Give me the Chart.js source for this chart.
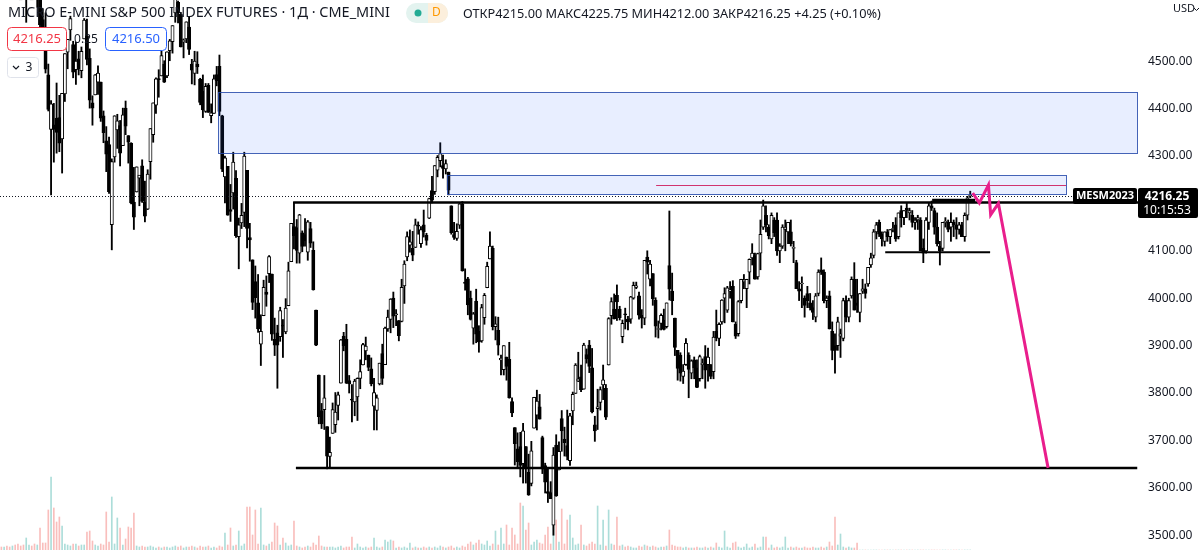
<!DOCTYPE html>
<html>
<head>
<meta charset="utf-8">
<script src="https://cdn.jsdelivr.net/npm/chart.js@4.4.0/dist/chart.umd.min.js"></script>
<style>
  html, body { margin: 0; padding: 0; background: #ffffff; }
  #wrap { width: 1200px; height: 550px; }
</style>
</head>
<body>
<div id="wrap"><canvas id="chart" width="1200" height="550"></canvas></div>
<script>
// MES daily candles, 28 Dec 2021 .. 19 May 2023 (one value per trading day)
const opens = [
4795,4788,4794,4775,4766,4800,4790,4697,4697,4655,
4669,4728,4733,4637,4632,4588,4547,4471,4356,4366,
4380,4381,4336,4431,4519,4566,4535,4482,4505,4480,
4547,4553,4506,4412,4429,4456,4456,4385,4332,4324,
4155,4298,4355,4364,4322,4401,4343,4327,4203,4224,
4253,4279,4203,4188,4288,4345,4407,4462,4469,4494,
4469,4522,4541,4602,4624,4599,4540,4547,4572,4494,
4474,4494,4462,4437,4394,4449,4385,4390,4472,4489,
4385,4256,4278,4187,4222,4253,4130,4159,4181,4270,
4128,4081,4035,3990,3903,3963,4013,4052,4051,3913,
3927,3919,3942,3929,3984,4077,4151,4149,4095,4138,
4134,4097,4147,4101,3975,3838,3763,3765,3729,3666,
3715,3733,3774,3821,3920,3913,3826,3786,3781,3792,
3831,3859,3889,3880,3851,3772,3763,3819,3883,3860,
3935,3955,4000,3965,3953,3951,4026,4087,4112,4105,
4107,4154,4115,4155,4133,4169,4227,4225,4270,4290,
4280,4273,4266,4195,4134,4126,4154,4199,4034,4041,
4000,3937,3994,3930,3910,3959,4022,4083,4105,3940,
3932,3870,3849,3875,3871,3782,3727,3682,3687,3651,
3687,3633,3609,3726,3753,3771,3706,3647,3592,3590,
3521,3690,3638,3746,3703,3689,3657,3762,3799,3825,
3834,3808,3881,3901,3853,3733,3767,3780,3817,3810,
3859,3963,3977,4006,3977,3919,3967,3956,3956,4000,
4023,4005,3964,3958,4087,4040,4052,3996,3934,3947,
3954,3940,4069,4015,3958,3890,3880,3835,3860,3880,
3842,3870,3853,3830,3860,3877,3860,3860,3845,3930,
3915,3950,4000,3975,4015,4025,3945,3925,3995,4035,
4020,4055,4085,4090,4045,4095,4150,4175,4150,4125,
4165,4165,4100,4110,4145,4140,4140,4105,4075,4020,
4030,4000,4010,3990,3980,3960,4010,4060,4055,3995,
4005,3930,3900,3900,3920,3915,3995,3960,4005,4040,
3990,3970,4015,4020,4030,4070,4090,4140,4160,4135,
4120,4140,4130,4145,4155,4130,4185,4170,4190,4180,
4175,4160,4165,4165,4105,4100,4160,4195,4185,4150,
4110,4105,4160,4160,4150,4160,4155,4145,4155,4130,
4175,4215
];
const highs = [
4807,4804,4808,4787,4797,4818,4797,4725,4707,4673,
4715,4748,4744,4666,4632,4611,4602,4494,4417,4411,
4454,4428,4432,4516,4546,4595,4542,4540,4521,4530,
4590,4589,4526,4427,4472,4490,4456,4395,4362,4340,
4294,4385,4388,4375,4401,4416,4343,4328,4276,4277,
4259,4292,4247,4271,4358,4412,4465,4482,4522,4501,
4520,4546,4575,4637,4627,4603,4547,4583,4593,4504,
4521,4520,4464,4471,4453,4453,4410,4471,4489,4513,
4386,4300,4278,4240,4308,4269,4169,4200,4308,4270,
4158,4081,4068,4050,3965,4038,4047,4090,4051,3958,
3943,3981,3955,3999,4076,4158,4202,4166,4177,4142,
4168,4164,4160,4119,3975,3838,3778,3837,3729,3707,
3779,3801,3802,3913,3928,3945,3837,3818,3829,3832,
3870,3905,3918,3880,3874,3831,3796,3863,3903,3939,
3975,3999,4013,3976,3953,4040,4079,4140,4144,4141,
4167,4161,4151,4186,4137,4211,4257,4280,4301,4328,
4302,4292,4266,4195,4160,4157,4200,4204,4062,4044,
4015,3970,4019,3942,3987,4010,4076,4140,4110,3961,
3960,3880,3900,3876,3907,3790,3727,3716,3717,3736,
3687,3671,3698,3791,3806,3797,3709,3652,3640,3613,
3685,3712,3697,3763,3728,3764,3757,3802,3862,3886,
3859,3905,3893,3911,3894,3751,3808,3813,3859,3818,
3959,4001,4009,4028,3983,3954,3979,3962,4004,4034,
4034,4013,3976,4080,4100,4080,4052,4001,3952,3967,
3977,3990,4184,4053,3958,3890,3885,3860,3915,3885,
3870,3876,3870,3880,3872,3900,3895,3860,3930,3975,
3948,3997,4022,4025,4035,4037,3950,3995,4040,4050,
4040,4083,4115,4095,4095,4165,4207,4195,4155,4180,
4170,4180,4115,4155,4165,4160,4165,4120,4080,4035,
4045,4005,4025,4010,3995,4010,4060,4085,4060,4005,
4015,3950,3925,3960,3935,4000,4005,4000,4045,4075,
4040,4010,4040,4030,4065,4095,4145,4160,4165,4140,
4140,4145,4145,4160,4170,4180,4195,4185,4200,4190,
4185,4170,4175,4170,4125,4170,4200,4205,4190,4180,
4120,4160,4170,4165,4180,4165,4170,4160,4160,4180,
4215,4225.75
];
const lows = [
4780,4778,4775,4758,4758,4774,4700,4671,4662,4582,
4636,4706,4653,4614,4568,4530,4475,4395,4218,4287,
4306,4309,4264,4415,4484,4544,4465,4451,4471,4465,
4547,4492,4401,4365,4429,4430,4373,4328,4267,4221,
4102,4287,4316,4279,4322,4345,4285,4199,4145,4224,
4195,4202,4161,4187,4251,4329,4390,4424,4469,4455,
4465,4501,4517,4582,4581,4530,4507,4539,4514,4452,
4450,4474,4408,4381,4392,4392,4370,4390,4448,4385,
4267,4201,4175,4162,4188,4128,4062,4147,4151,4106,
4078,3976,3958,3928,3858,3963,3983,4033,3911,3879,
3810,3909,3875,3925,3984,4077,4104,4074,4074,4098,
4110,4080,4107,4017,3900,3735,3725,3723,3640,3642,
3715,3717,3743,3821,3889,3820,3800,3739,3752,3742,
3809,3859,3870,3847,3815,3722,3722,3817,3818,3860,
3930,3927,3938,3942,3910,3950,3989,4079,4097,4079,
4107,4135,4107,4129,4112,4168,4201,4219,4256,4277,
4253,4262,4218,4135,4124,4122,4147,4057,4017,3965,
3954,3903,3906,3886,3907,3945,4022,4083,3933,3912,
3880,3838,3838,3827,3789,3750,3648,3644,3623,3610,
3610,3584,3604,3726,3722,3745,3630,3589,3569,3577,
3500,3582,3638,3677,3667,3659,3647,3733,3799,3824,
3803,3808,3863,3843,3758,3698,3723,3764,3786,3744,
3859,3945,3956,3953,3954,3906,3935,3933,3947,3998,
4020,3956,3937,3944,4051,4026,3985,3918,3916,3933,
3933,3937,3996,3965,3879,3827,3825,3820,3858,3790,
3830,3830,3811,3825,3830,3810,3825,3830,3830,3910,
3900,3945,3948,3970,4000,3950,3915,3920,3990,4020,
3980,4030,4070,4040,4040,4060,4145,4140,4125,4115,
4130,4090,4075,4105,4100,4115,4110,4075,4020,3995,
3980,3960,3980,3975,3955,3950,4005,4050,3990,3980,
3935,3870,3842,3890,3875,3910,3950,3950,4000,3975,
3970,3950,4010,4000,4025,4065,4085,4125,4130,4110,
4110,4120,4115,4140,4120,4125,4150,4155,4170,4165,
4150,4145,4145,4100,4075,4095,4145,4185,4135,4110,
4070,4100,4150,4140,4120,4130,4125,4135,4130,4120,
4165,4212
];
const closes = [
4786,4793,4778,4766,4796,4793,4700,4696,4677,4670,
4713,4726,4659,4662,4577,4532,4483,4398,4410,4356,
4350,4327,4432,4516,4546,4590,4477,4500,4484,4521,
4587,4504,4418,4401,4471,4475,4380,4349,4304,4225,
4288,4385,4374,4306,4387,4363,4329,4201,4171,4277,
4260,4204,4173,4262,4358,4412,4463,4461,4512,4456,
4520,4543,4575,4632,4602,4530,4545,4583,4525,4481,
4500,4488,4413,4397,4447,4392,4391,4463,4459,4394,
4272,4296,4175,4183,4287,4132,4155,4175,4300,4147,
4123,3991,4001,3935,3930,4023,4008,4088,3924,3901,
3901,3974,3941,3979,4058,4158,4132,4101,4176,4109,
4121,4161,4116,4018,3901,3750,3735,3790,3667,3675,
3765,3760,3796,3912,3900,3821,3819,3785,3825,3831,
3845,3902,3899,3854,3819,3801,3790,3863,3831,3937,
3960,3998,3962,3967,3921,4023,4072,4130,4119,4091,
4155,4152,4145,4140,4122,4210,4207,4280,4297,4305,
4274,4284,4228,4138,4128,4141,4199,4058,4031,3986,
3955,3967,3924,3908,3980,4006,4067,4110,3940,3946,
3901,3873,3900,3856,3790,3758,3693,3655,3647,3720,
3640,3585,3678,3791,3783,3745,3640,3612,3588,3577,
3669,3583,3677,3720,3695,3666,3752,3797,3859,3830,
3807,3901,3872,3856,3760,3720,3771,3807,3828,3749,
3957,3993,3957,3992,3959,3947,3965,3950,4003,4027,
4026,3964,3958,4080,4076,4072,3999,3941,3934,3964,
3934,3990,4019,3995,3896,3852,3842,3846,3905,3850,
3868,3853,3812,3877,3863,3848,3876,3835,3918,3917,
3945,3996,4010,4022,4017,3950,3920,3993,4040,4038,
4040,4082,4095,4040,4094,4135,4195,4155,4132,4175,
4138,4100,4110,4150,4150,4160,4115,4105,4020,4015,
4030,3985,3995,3980,3970,4005,4055,4055,3995,4000,
3935,3890,3890,3950,3925,3995,3960,3995,4040,3975,
3985,4010,4020,4010,4065,4085,4140,4155,4135,4125,
4140,4130,4145,4145,4125,4180,4170,4185,4185,4185,
4160,4165,4170,4100,4095,4165,4195,4190,4150,4115,
4100,4160,4160,4145,4160,4155,4145,4155,4130,4175,
4212,4216.25
];
// volume, in the height units of the overlay pane
const volumes = [
3,3,4,3,4,5,6,4,5,12,
5,4,6,5,22,7,7,40,73,42,
28,33,24,6,5,4,6,6,4,5,
5,18,19,9,5,4,6,5,38,8,
53,6,32,22,5,11,23,22,37,4,
3,4,3,3,4,3,2,3,2,3,
3,2,3,4,3,4,2,3,3,4,
3,2,4,3,3,4,2,3,2,4,
3,17,5,22,4,5,19,4,6,43,
43,15,40,6,42,5,4,6,8,27,
24,5,12,7,4,5,29,4,3,2,
3,4,3,7,5,14,4,3,3,3,
3,2,3,4,2,3,3,13,2,6,
3,2,3,2,3,12,3,2,3,10,
8,10,9,2,3,2,3,2,7,2,
3,2,2,3,2,3,2,3,2,4,
3,2,3,4,2,3,2,4,3,6,
8,5,7,10,6,5,9,4,6,19,
5,22,6,25,5,22,15,6,47,44,
20,27,5,8,10,7,6,15,23,6,
35,30,8,41,6,30,35,12,5,6,
25,5,4,6,8,6,44,5,30,4,
40,6,5,33,4,5,3,4,3,2,
2,4,3,5,4,3,4,3,2,3,
3,4,20,5,4,3,3,2,3,2,
2,2,3,2,2,3,2,3,2,7,
3,2,19,3,2,7,8,3,2,3,
6,2,3,6,2,3,13,13,2,5,
2,3,2,3,13,2,3,2,3,2,
2,3,2,2,3,2,2,3,2,3,
8,4,33,5,16,3,2,3,2,2,
7,0,0,0,0,0,0,0,0,0,
0,0,0,0,0,0,0,0,0,0,
0,0,0,0,0,0,0,0,0,0,
0,0,0,0,0,0,0,0,0,0,
0,0
];
const priceTicks = [3500, 3600, 3700, 3800, 3900, 4000, 4100, 4200, 4300, 4400, 4500];
const lastPrice = 4216.25;

// drawings: [from index, to index, top price, bottom price]
const zoneUpper = [78.5, 411.5, 4435, 4306];
const zoneLower = [161.5, 385.7, 4260, 4220];
// [from index, to index, price]
const magentaLevel = [237.2, 385.7, 4239];
const resistance = [105.7, 413, 4202];
const support = [106.7, 411.5, 3642];
const rangeLow = [320.2, 358.2, 4097];
const rangeTop = [337.2, 352.8, 4206];
// projected path, [index, price]
const projection = [[351.9, 4222], [354.3, 4201], [357.6, 4239], [358.4, 4176], [361.2, 4200], [379.2, 3642]];

const slots = 413;
const labels = Array.from({ length: slots }, (_, i) => i);
const rising = closes.map((c, i) => c >= opens[i]);

const FONT = '"Noto Sans", "Open Sans", sans-serif';

function roundRect(ctx, x, y, w, h, r) {
  ctx.beginPath();
  ctx.moveTo(x + r, y);
  ctx.arcTo(x + w, y, x + w, y + h, r);
  ctx.arcTo(x + w, y + h, x, y + h, r);
  ctx.arcTo(x, y + h, x, y, r);
  ctx.arcTo(x, y, x + w, y, r);
  ctx.closePath();
}

function fitText(ctx, text, x, y, width, weight, color) {
  ctx.font = weight + ' 20px ' + FONT;
  const size = 20 * width / ctx.measureText(text).width;
  ctx.font = weight + ' ' + size.toFixed(2) + 'px ' + FONT;
  ctx.fillStyle = color;
  ctx.fillText(text, x, y);
}

const drawings = {
  id: 'drawings',
  afterDatasetsDraw(chart) {
    const { ctx, chartArea: a, scales: { x, y } } = chart;
    const px = i => x.getPixelForValue(i);
    const py = v => y.getPixelForValue(v);
    ctx.save();
    ctx.beginPath();
    ctx.rect(a.left, a.top, a.right - a.left, a.bottom - a.top);
    ctx.clip();

    // zones
    [zoneUpper, zoneLower].forEach(z => {
      const x1 = Math.round(px(z[0])) + 0.5, x2 = Math.round(px(z[1])) + 0.5;
      const y1 = Math.round(py(z[2])) + 0.5, y2 = Math.round(py(z[3])) + 0.5;
      ctx.fillStyle = 'rgba(41, 98, 255, 0.11)';
      ctx.fillRect(x1, y1, x2 - x1, y2 - y1);
      ctx.strokeStyle = 'rgba(38, 74, 170, 0.85)';
      ctx.lineWidth = 1;
      ctx.strokeRect(x1, y1, x2 - x1, y2 - y1);
    });

    // thin magenta level inside the lower zone
    ctx.strokeStyle = 'rgba(205, 30, 95, 0.9)';
    ctx.lineWidth = 1;
    ctx.beginPath();
    ctx.moveTo(px(magentaLevel[0]), Math.round(py(magentaLevel[2])) + 0.5);
    ctx.lineTo(px(magentaLevel[1]), Math.round(py(magentaLevel[2])) + 0.5);
    ctx.stroke();

    // last price dotted line
    const ly = Math.round(py(lastPrice)) + 0.5;
    ctx.strokeStyle = '#131722';
    ctx.setLineDash([1, 2]);
    ctx.beginPath();
    ctx.moveTo(a.left, ly);
    ctx.lineTo(1073, ly);
    ctx.stroke();
    ctx.setLineDash([]);

    // horizontal levels
    ctx.strokeStyle = '#000000';
    const hline = (l, w) => {
      ctx.lineWidth = w;
      ctx.beginPath();
      ctx.moveTo(px(l[0]), py(l[2]));
      ctx.lineTo(px(l[1]), py(l[2]));
      ctx.stroke();
    };
    hline(resistance, 2.5);
    hline(support, 2.5);
    hline(rangeLow, 2);
    hline(rangeTop, 3.5);

    // projection path
    ctx.strokeStyle = '#e91e8c';
    ctx.lineWidth = 3;
    ctx.lineJoin = 'miter';
    ctx.beginPath();
    projection.forEach((p, i) => {
      const X = px(p[0]), Y = py(p[1]);
      if (i === 0) ctx.moveTo(X, Y); else ctx.lineTo(X, Y);
    });
    ctx.stroke();
    ctx.restore();
  },
  afterDraw(chart) {
    const { ctx, scales: { y } } = chart;
    const ly = Math.round(y.getPixelForValue(lastPrice));
    ctx.save();
    ctx.textBaseline = 'middle';

    // symbol label on the price line
    ctx.fillStyle = '#000000';
    roundRect(ctx, 1073, ly - 8, 64, 16, 2);
    ctx.fill();
    ctx.textAlign = 'center';
    ctx.fillStyle = '#ffffff';
    ctx.font = 'bold 11px ' + FONT;
    ctx.fillText('MESM2023', 1105, ly);

    // price box on the axis
    ctx.fillStyle = '#000000';
    roundRect(ctx, 1138, ly - 8, 60, 30, 2);
    ctx.fill();
    ctx.fillStyle = '#ffffff';
    ctx.font = 'bold 12px ' + FONT;
    ctx.fillText('4216.25', 1167, ly + 1);
    ctx.font = '12px ' + FONT;
    ctx.fillText('10:15:53', 1167, ly + 15);

    // header
    ctx.textAlign = 'left';
    fitText(ctx, 'MICRO E-MINI S&P 500 INDEX FUTURES · 1Д · CME_MINI', 8, 13, 382, 'normal', '#131722');

    ctx.fillStyle = '#e3f3ef';
    roundRect(ctx, 406, 3, 42, 20, 10);
    ctx.fill();
    ctx.fillStyle = '#fcefdc';
    ctx.beginPath();
    ctx.moveTo(428, 3); ctx.lineTo(438, 3);
    ctx.arcTo(448, 3, 448, 13, 10);
    ctx.arcTo(448, 23, 438, 23, 10);
    ctx.lineTo(428, 23); ctx.closePath();
    ctx.fill();
    ctx.fillStyle = '#22ab94';
    ctx.beginPath();
    ctx.arc(418, 13, 3.5, 0, Math.PI * 2);
    ctx.fill();
    ctx.fillStyle = '#ff9800';
    ctx.font = '12px ' + FONT;
    ctx.fillText('D', 432, 13);

    fitText(ctx, 'ОТКР4215.00 МАКС4225.75 МИН4212.00 ЗАКР4216.25 +4.25 (+0.10%)', 463, 14, 418, 'normal', '#131722');

    // bid / ask row
    ctx.fillStyle = '#ffffff';
    ctx.strokeStyle = '#f23645';
    ctx.lineWidth = 1;
    roundRect(ctx, 7.5, 27.5, 59, 23, 4);
    ctx.fill(); ctx.stroke();
    ctx.strokeStyle = '#2962ff';
    roundRect(ctx, 105.5, 27.5, 61, 23, 4);
    ctx.fill(); ctx.stroke();
    ctx.font = '13px ' + FONT;
    ctx.textAlign = 'center';
    ctx.fillStyle = '#f23645';
    ctx.fillText('4216.25', 37, 39.5);
    ctx.fillStyle = '#2962ff';
    ctx.fillText('4216.50', 136, 39.5);
    ctx.fillStyle = '#131722';
    ctx.font = '12px ' + FONT;
    ctx.fillText('0.25', 86, 39.5);

    // collapsed indicators button
    ctx.fillStyle = '#ffffff';
    ctx.strokeStyle = '#e0e3eb';
    roundRect(ctx, 7.5, 57.5, 31, 20, 3);
    ctx.fill(); ctx.stroke();
    ctx.strokeStyle = '#131722';
    ctx.lineWidth = 1.2;
    ctx.beginPath();
    ctx.moveTo(13, 66); ctx.lineTo(16, 69); ctx.lineTo(19, 66);
    ctx.stroke();
    ctx.fillStyle = '#131722';
    ctx.font = '12px ' + FONT;
    ctx.fillText('3', 29, 68);

    // currency
    ctx.textAlign = 'left';
    ctx.font = '11px ' + FONT;
    ctx.fillText('USD', 1173, 9);
    ctx.lineWidth = 1;
    ctx.beginPath();
    ctx.moveTo(1194, 8); ctx.lineTo(1196.5, 10.5); ctx.lineTo(1199, 8);
    ctx.stroke();
    ctx.restore();
  }
};

new Chart(document.getElementById('chart'), {
  type: 'bar',
  data: {
    labels,
    datasets: [
      {
        label: 'Volume',
        data: volumes,
        yAxisID: 'vol',
        backgroundColor: rising.map(u => u ? 'rgba(38, 166, 154, 0.38)' : 'rgba(239, 83, 80, 0.38)'),
        barThickness: 1,
        grouped: false,
        order: 3
      },
      {
        label: 'Range',
        data: lows.map((l, i) => [l, highs[i]]),
        backgroundColor: '#000000',
        barThickness: 1.2,
        grouped: false,
        order: 2
      },
      {
        label: 'Body',
        data: opens.map((o, i) => [o, closes[i]]),
        backgroundColor: rising.map(u => u ? '#ffffff' : '#000000'),
        borderColor: '#000000',
        borderWidth: 1,
        borderSkipped: false,
        minBarLength: 1,
        barThickness: 3.3,
        grouped: false,
        order: 1
      }
    ]
  },
  options: {
    responsive: false,
    animation: false,
    devicePixelRatio: 1,
    layout: { padding: 0 },
    plugins: {
      legend: { display: false },
      tooltip: { enabled: false },
      title: { display: false }
    },
    scales: {
      x: { type: 'category', display: false, offset: true, grid: { display: false } },
      y: {
        position: 'right',
        min: 3468.8,
        max: 4629.1,
        grid: { display: false, drawTicks: false },
        border: { display: false },
        ticks: {
          padding: 8,
          color: '#131722',
          font: { size: 12, family: FONT },
          callback: v => v.toFixed(2)
        },
        afterBuildTicks: s => { s.ticks = priceTicks.map(v => ({ value: v })); },
        afterFit: s => { s.width = 60; s.paddingTop = 0; s.paddingBottom = 0; }
      },
      vol: { display: false, min: 0, max: 550 }
    }
  },
  plugins: [drawings]
});
</script>
</body>
</html>
